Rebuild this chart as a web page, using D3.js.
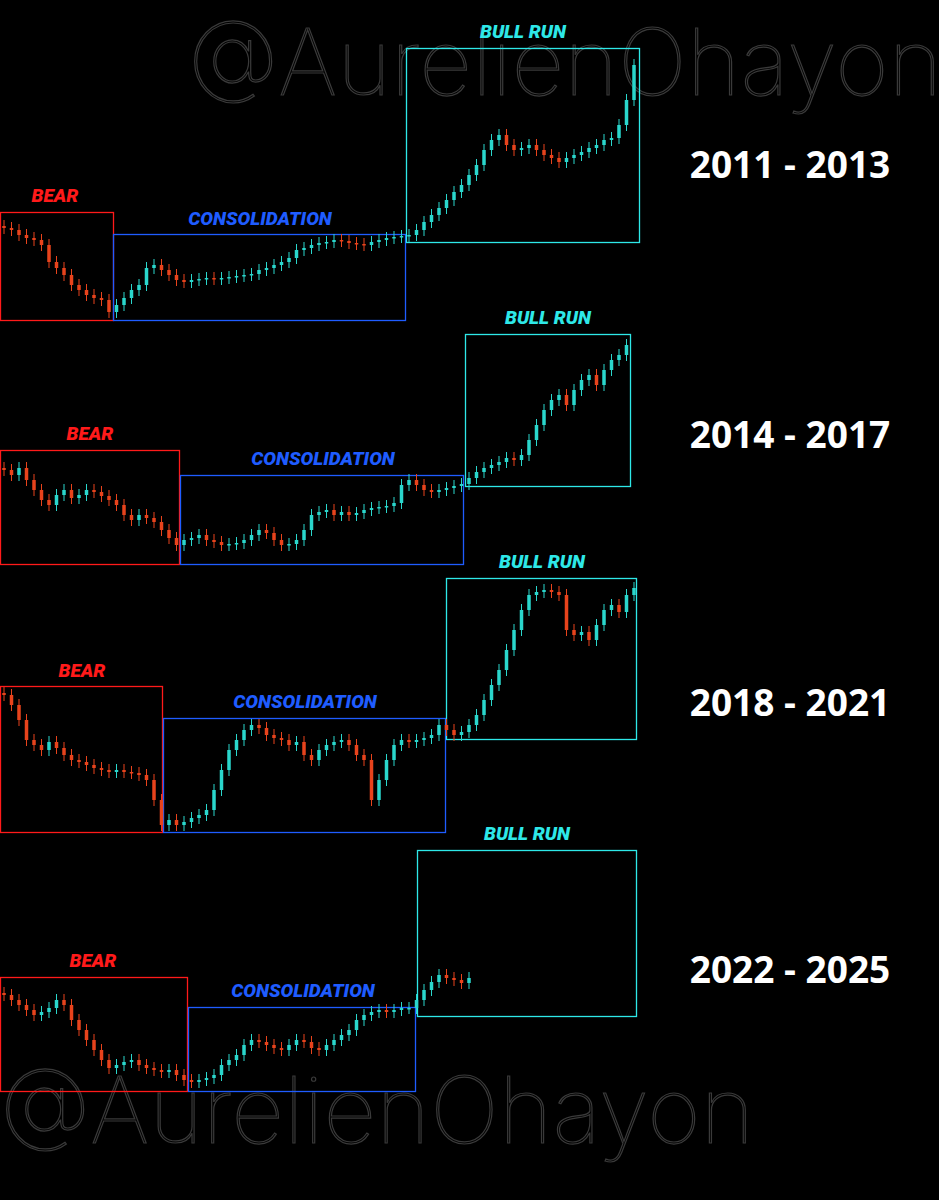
<!DOCTYPE html>
<html><head><meta charset="utf-8">
<script src="https://cdn.jsdelivr.net/npm/d3@7"></script>
<style>body{margin:0;background:#000}svg{display:block}</style></head>
<body><svg id="c" width="939" height="1200"></svg>
<script>
const years = ["2011 - 2013","2014 - 2017","2018 - 2021","2022 - 2025"];
const phaseLabels = ["BEAR","CONSOLIDATION","BULL RUN"];
const closes1 = [92,90,85,82,80,75,58,52,45,35,30,25,22,20,8,
 15,22,30,35,52,55,50,45,40,38,40,41,42,41,42,43,44,45,46,50,52,55,58,62,70,72,75,77,78,80,79,77,76,75,78,80,82,83,84,
 85,90,98,105,112,120,128,135,145,155,170,180,185,175,170,172,175,170,165,162,158,162,165,168,172,175,180,182,195,220,255];
const closes2 = [94,89,96,84,74,64,59,69,74,66,69,74,72,68,64,59,49,44,49,46,42,34,26,19,
 24,26,29,24,22,19,20,21,24,29,34,31,24,19,20,24,34,49,52,54,49,52,49,51,54,56,57,58,61,79,84,79,74,72,74,76,78,80,
 86,92,96,99,102,106,104,109,124,139,154,164,169,159,174,184,189,179,194,204,209,219];
const closes3 = [137,127,112,92,87,82,90,84,77,72,70,67,64,62,60,62,60,59,57,52,32,7,
 12,7,10,14,17,22,42,62,82,92,102,107,104,97,94,92,87,90,77,72,82,87,90,92,87,77,72,32,52,72,87,92,90,92,94,97,107,102,
 97,100,107,117,132,147,162,182,202,222,237,240,242,240,237,202,197,200,192,207,222,227,220,237,244];
const closes4 = [96,91,86,81,76,79,83,91,86,71,61,51,41,31,23,26,29,31,26,23,21,19,21,16,11,
 9,11,13,16,26,31,36,46,51,49,46,43,41,46,51,49,43,41,46,51,56,61,71,76,79,81,79,81,83,83,
 91,101,109,116,113,111,108,113];
const panels = [
 {closes:closes1, base:320, year:years[0], yearY:165,
  boxes:[[0,212,113,320],[113,234,405,320],[406,48,639,242]],
  labels:[[55,195],[260,218],[523,31]]},
 {closes:closes2, base:564, year:years[1], yearY:435,
  boxes:[[0,450,179,564],[180,475,463,564],[465,334,630,486]],
  labels:[[90,433],[323,458],[548,317]]},
 {closes:closes3, base:832, year:years[2], yearY:703,
  boxes:[[0,686,162,832],[163,718,445,832],[446,578,636,739]],
  labels:[[82,670],[305,701],[542,561]]},
 {closes:closes4, base:1091, year:years[3], yearY:970,
  boxes:[[0,977,187,1091],[188,1007,415,1091],[417,850,636,1016]],
  labels:[[93,960],[303,990],[527,833]]}
];
const boxCol = ["#ff1a1a","#1f5cff","#2ee8e8"];
const upCol="#2ad6cc", dnCol="#e8431c";
const svg = d3.select("#c");
svg.append("rect").attr("width",939).attr("height",1200).attr("fill","#000");
svg.append("text").attr("x",188).attr("y",95).attr("font-family","Inter, sans-serif").attr("font-weight",100)
 .attr("font-size",92).attr("fill","none").attr("stroke","#3a3a3a").attr("stroke-width",1.2).text("@AurelienOhayon");
svg.append("text").attr("x",0).attr("y",1143).attr("font-family","Inter, sans-serif").attr("font-weight",100)
 .attr("font-size",92).attr("fill","none").attr("stroke","#3a3a3a").attr("stroke-width",1.2).text("@AurelienOhayon");

panels.forEach(p=>{
  const n=p.closes.length;
  const x=d3.scaleLinear().domain([0,n-1]).range([4,4+(n-1)*7.5]);
  const y=d3.scaleLinear().domain([0,100]).range([p.base,p.base-100]);
  const data=p.closes.map((c,i)=>({i,c,o:i?p.closes[i-1]:c+2}));
  p.boxes.forEach((b,k)=>svg.append("rect").attr("x",b[0]+0.5).attr("y",b[1]+0.5).attr("width",b[2]-b[0]).attr("height",b[3]-b[1])
    .attr("fill","none").attr("stroke",boxCol[k]).attr("stroke-width",1.3));
  const g=svg.append("g");
  g.selectAll("line").data(data).join("line")
   .attr("x1",d=>x(d.i)).attr("x2",d=>x(d.i))
   .attr("y1",d=>y(Math.max(d.o,d.c))-6).attr("y2",d=>y(Math.min(d.o,d.c))+6)
   .attr("stroke",d=>d.c>=d.o?upCol:dnCol).attr("stroke-width",1);
  g.selectAll("rect").data(data).join("rect")
   .attr("x",d=>x(d.i)-1.75).attr("width",3.5)
   .attr("y",d=>y(Math.max(d.o,d.c))).attr("height",d=>Math.max(1.5,Math.abs(y(d.o)-y(d.c))))
   .attr("fill",d=>d.c>=d.o?upCol:dnCol);
  p.labels.forEach((l,k)=>svg.append("text").attr("x",l[0]).attr("y",l[1]+7).attr("text-anchor","middle")
    .attr("font-family","Roboto, sans-serif").attr("font-weight",900).attr("font-style","italic")
    .attr("font-size",19).attr("fill",boxCol[k]).text(phaseLabels[k]));
  svg.append("text").attr("x",790).attr("y",p.yearY+13).attr("text-anchor","middle")
    .attr("font-family","Open Sans, sans-serif").attr("font-weight",700).attr("font-size",37).attr("fill","#fff").text(p.year);
});
</script></body></html>
